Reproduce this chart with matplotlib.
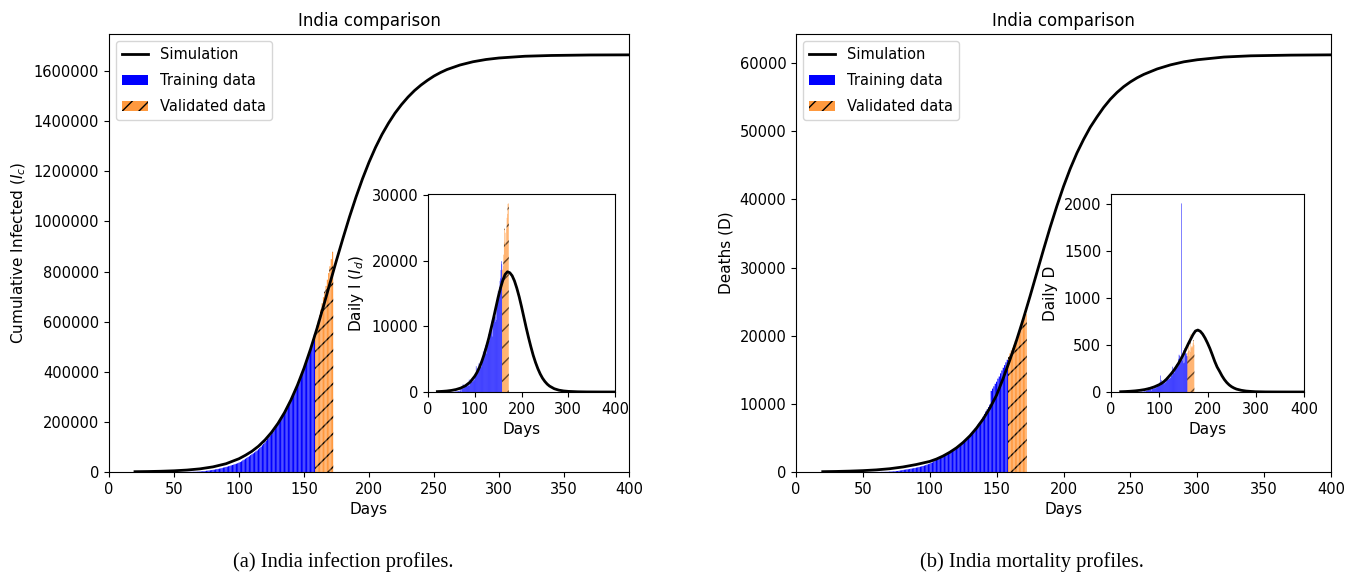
import numpy as np
import matplotlib
matplotlib.use("Agg")
import matplotlib.pyplot as plt
from matplotlib.ticker import ScalarFormatter

# ---------------- data ----------------
first_day = 20          # day index of first data value
last_train_day = 158    # last day of training data

# cumulative confirmed infections, India, days 20..172
cum_infected = [
    3, 3, 3, 3, 3, 3, 3, 3, 3, 3, 3, 3, 3, 3, 3, 3, 3, 3, 3,
    3, 5, 5, 28, 30, 31, 34, 39, 43, 56, 62, 73, 82, 102, 113, 119, 142, 156, 194, 244,
    330, 396, 499, 536, 657, 727, 887, 987, 1024, 1251, 1397, 1998, 2543, 2567, 3082, 3588,
    4778, 5311, 5916, 6725, 7598, 8446, 9205, 10453, 11487, 12322, 13430, 14352, 15722, 17615,
    18539, 20080, 21370, 23077, 24530, 26283, 27890, 29451, 31324, 33062, 34863, 37257, 39699,
    42505, 46437, 49400, 52987, 56351, 59695, 62808, 67161, 70768, 74292, 78055, 81997, 85784,
    90648, 95698, 100328, 106475, 112028, 118226, 124794, 131423, 138536, 144950, 150793,
    158086, 165386, 173491, 181827, 190609, 198370, 207191, 216824, 226713, 236184, 246622,
    257486, 265928, 276146, 286579, 297535, 308993, 320922, 332424, 343091, 354065, 366946,
    380532, 395048, 410451, 425282, 440215, 456183, 473105, 490401, 508953, 528859, 548318,
    566840, 585481, 604641, 625544, 648315, 673165, 697413, 719665, 742417, 767296, 793802,
    820916, 849553, 878254,
]

# cumulative deaths, India, days 20..172
cum_deaths = [
    0, 0, 0, 0, 0, 0, 0, 0, 0, 0, 0, 0, 0, 0, 0, 0, 0, 0, 0,
    0, 0, 0, 0, 0, 0, 0, 0, 0, 0, 0, 1, 2, 2, 2, 2, 3, 3, 4, 5,
    6, 7, 10, 10, 12, 20, 20, 24, 27, 32, 35, 58, 72, 72, 86, 99,
    136, 150, 178, 226, 246, 288, 331, 358, 393, 405, 448, 486, 521, 559,
    592, 645, 681, 721, 780, 825, 881, 939, 1008, 1079, 1154, 1223, 1323,
    1391, 1566, 1693, 1785, 1889, 1985, 2101, 2212, 2294, 2415, 2551, 2649, 2753,
    2871, 3025, 3156, 3302, 3434, 3584, 3726, 3868, 4024, 4172, 4344,
    4534, 4711, 4980, 5185, 5408, 5608, 5829, 6088, 6363, 6649, 6946,
    7207, 7473, 7750, 8102, 8498, 8884, 9195, 9520, 9900, 11903, 12237,
    12573, 12948, 13254, 13699, 14011, 14476, 14894, 15301, 15685, 16095, 16475,
    16893, 17400, 17834, 18213, 18655, 19268, 19693, 20160, 20642, 21129, 21604,
    22123, 22674, 23174,
]

# simulation curves
sim_days = [20, 30, 40, 50, 60, 70, 80, 90, 100, 105, 110, 115, 120, 125, 130, 135, 140,
            145, 150, 155, 160, 165, 170, 175, 180, 185, 190, 195, 200, 205, 210, 215, 220,
            225, 230, 235, 240, 245, 250, 255, 260, 270, 280, 290, 300, 320, 340, 370, 400]

sim_cum_infected = [1200, 1900, 3000, 4800, 7800, 12600, 20500, 33000, 53000, 67000, 83000,
                    103000, 128000, 158000, 194000, 237000, 288000, 347000, 414000, 490000,
                    573000, 662000, 754000, 845000, 933000, 1018000, 1097000, 1170000,
                    1236000, 1295000, 1347000, 1392000, 1432000, 1466000, 1496000, 1522000,
                    1544000, 1563000, 1580000, 1594000, 1606000, 1624000, 1637000, 1646000,
                    1652000, 1659000, 1662000, 1664000, 1664500]

sim_daily_infected = [60, 95, 150, 240, 380, 600, 950, 1500, 2400, 3000, 3750, 4650, 5700,
                      6900, 8200, 9700, 11200, 12800, 14400, 15800, 17000, 17900, 18300,
                      18150, 17700, 16900, 15800, 14500, 13000, 11400, 9800, 8300, 6900,
                      5600, 4500, 3550, 2750, 2100, 1600, 1200, 900, 500, 280, 160, 95, 35,
                      13, 4, 1]

sim_cum_deaths = [50, 80, 130, 200, 310, 480, 740, 1100, 1550, 1900, 2350, 2900, 3550, 4350,
                  5300, 6450, 7800, 9400, 11300, 13800, 16500, 19400, 22500, 25800, 29200,
                  32600, 35900, 39000, 41900, 44500, 46800, 48800, 50600, 52100, 53500, 54700,
                  55700, 56550, 57250, 57850, 58350, 59150, 59750, 60200, 60500, 60900, 61080,
                  61180, 61220]

sim_daily_deaths = [3, 5, 8, 12, 18, 26, 38, 55, 78, 93, 112, 136, 165, 195, 228, 265, 305,
                    350, 400, 455, 510, 560, 610, 648, 658, 645, 615, 572, 520, 462, 395, 325,
                    265, 220, 172, 132, 100, 75, 56, 42, 31, 18, 10, 6, 3, 1, 0.5, 0.2, 0]

# ---------------- figure ----------------
W, H = 1360, 574
fig = plt.figure(figsize=(W / 100, H / 100), dpi=100)

orange = (1.0, 0.6, 0.243)
blue = "blue"
bar_w_main = 0.9
bar_w_inset = 1.0


def px_axes(x0, y0, x1, y1):
    return fig.add_axes([x0 / W, (H - y1) / H, (x1 - x0) / W, (y1 - y0) / H])


def draw_panel(ax_main, ax_in, cum, sim_cum, sim_daily, ylabel, inset_ylabel):
    days = np.arange(first_day, first_day + len(cum))
    cum = np.asarray(cum, dtype=float)
    daily = np.diff(cum, prepend=cum[0])
    tr = days <= last_train_day
    va = ~tr

    ax_main.plot(sim_days, sim_cum, color="black", lw=2, label="Simulation")
    ax_main.bar(days[tr], cum[tr], width=bar_w_main, color=blue, linewidth=0, snap=False,
                label="Training data")
    ax_main.bar(days[va], cum[va], width=bar_w_main, color=orange, edgecolor="black",
                linewidth=0, hatch="//", snap=False, label="Validated data")
    ax_main.set_xlim(0, 400)
    ax_main.set_xticks(np.arange(0, 401, 50))
    ax_main.set_xlabel("Days", fontsize=11)
    ax_main.set_ylabel(ylabel, fontsize=11)
    ax_main.set_title("India comparison", fontsize=12)
    fmt = ScalarFormatter(useOffset=False)
    fmt.set_scientific(False)
    ax_main.yaxis.set_major_formatter(fmt)
    ax_main.tick_params(labelsize=10.5)
    ax_main.legend(loc="upper left", fontsize=10.5, handlelength=1.8, labelspacing=0.75)

    ax_in.plot(sim_days, sim_daily, color="black", lw=2)
    ax_in.bar(days[tr], daily[tr], width=bar_w_inset, color=blue, linewidth=0, snap=False)
    ax_in.bar(days[va], daily[va], width=bar_w_inset, color=orange, edgecolor="black",
              linewidth=0, hatch="//", snap=False)
    ax_in.set_xlim(0, 400)
    ax_in.set_xticks(np.arange(0, 401, 100))
    ax_in.set_xlabel("Days", fontsize=11)
    ax_in.set_ylabel(inset_ylabel, fontsize=11)
    ax_in.tick_params(labelsize=10.5)


axA = px_axes(109, 34, 629, 472)
axA_in = px_axes(428, 194, 615, 392)
draw_panel(axA, axA_in, cum_infected, sim_cum_infected, sim_daily_infected,
           r"Cumulative Infected ($I_c$)", r"Daily I ($I_d$)")

axB = px_axes(796, 34, 1331, 472)
axB_in = px_axes(1111, 194, 1304, 392)
draw_panel(axB, axB_in, cum_deaths, sim_cum_deaths, sim_daily_deaths,
           "Deaths (D)", "Daily D")

fig.text(343 / W, (H - 562) / H, "(a) India infection profiles.", ha="center", va="center",
         fontsize=14.8, family="Liberation Serif")
fig.text(1032 / W, (H - 562) / H, "(b) India mortality profiles.", ha="center", va="center",
         fontsize=14.8, family="Liberation Serif")

fig.savefig("out.png", dpi=100)
